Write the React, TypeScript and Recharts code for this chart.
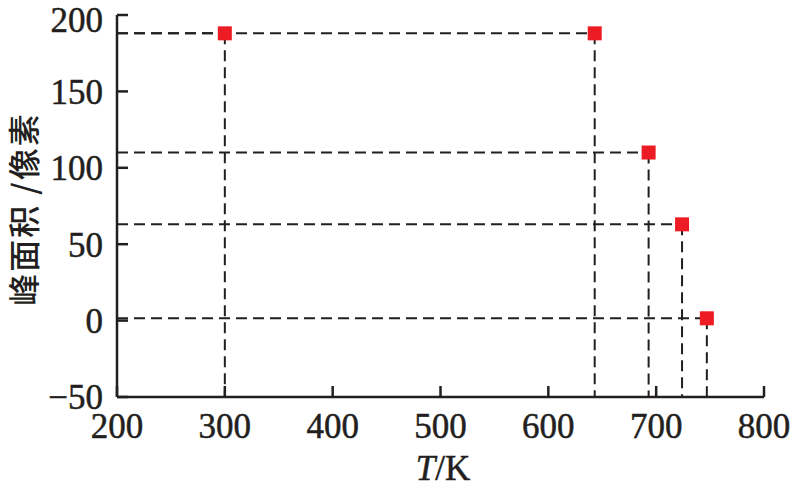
import { ReferenceLine, Scatter, ScatterChart, XAxis, YAxis } from "recharts";

const temps = [300, 643, 693, 724, 747];
const areas = [188, 188, 110, 63, 1.5];
const xTicks = [200, 300, 400, 500, 600, 700, 800];
const yTicks = [-50, 0, 50, 100, 150, 200];

const points = temps.map((t, i) => ({ t, area: areas[i] }));

const FONT = "'Liberation Serif', 'Times New Roman', serif";
const INK = "#231f20";

const tickStyle = {
  fontFamily: FONT,
  fontSize: 35,
  fill: INK,
  stroke: INK,
  strokeWidth: 0.5,
};

function Square(props: any) {
  const { cx, cy } = props;
  return <rect x={cx - 7} y={cy - 7} width={14} height={14} fill="#ed1c24" />;
}

export default function App() {
  return (
    <div style={{ position: "absolute", left: 0, top: 0, background: "#fff" }}>
      <ScatterChart width={792} height={488} margin={{ top: 15, right: 28, bottom: 0, left: 0 }}>
        <XAxis
          type="number"
          dataKey="t"
          domain={[200, 800]}
          ticks={xTicks}
          height={91}
          tickSize={-11}
          tickMargin={27}
          tick={tickStyle}
          tickLine={{ stroke: INK, strokeWidth: 2.5 }}
          axisLine={{ stroke: INK, strokeWidth: 2.5 }}
          label={{
            position: "insideBottom",
            content: () => (
              <text x={443} y={480} textAnchor="middle" fontFamily={FONT} fontSize={35} fill={INK} stroke={INK} strokeWidth={0.5}>
                <tspan fontStyle="italic">T</tspan>
                <tspan>/K</tspan>
              </text>
            ),
          }}
        />
        <YAxis
          type="number"
          dataKey="area"
          domain={[-50, 200]}
          ticks={yTicks}
          width={117}
          tickSize={-11}
          tickMargin={25}
          tick={tickStyle}
          tickFormatter={(v: number) => (v < 0 ? `\u2212${Math.abs(v)}` : `${v}`)}
          tickLine={{ stroke: INK, strokeWidth: 2.5 }}
          axisLine={{ stroke: INK, strokeWidth: 2.5 }}
          label={{
            position: "insideLeft",
            content: () => (
              <text
                x={22}
                y={209}
                transform="rotate(-90 22 209)"
                textAnchor="middle"
                dominantBaseline="central"
                fontFamily="'Noto Sans CJK SC', sans-serif"
                fontSize={32}
                fontWeight={500}
                letterSpacing={2}
                fill={INK}
              >
                峰面积 /像素
              </text>
            ),
          }}
        />
        {points.map((p, i) => (
          <ReferenceLine
            key={`h${i}`}
            segment={[
              { x: 200, y: p.area },
              { x: p.t, y: p.area },
            ]}
            stroke={INK}
            strokeWidth={2}
            strokeDasharray="11 6"
          />
        ))}
        {points.map((p, i) => (
          <ReferenceLine
            key={`v${i}`}
            segment={[
              { x: p.t, y: p.area },
              { x: p.t, y: -50 },
            ]}
            stroke={INK}
            strokeWidth={2}
            strokeDasharray="11 6"
          />
        ))}
        <Scatter data={points} shape={<Square />} isAnimationActive={false} />
      </ScatterChart>
    </div>
  );
}
